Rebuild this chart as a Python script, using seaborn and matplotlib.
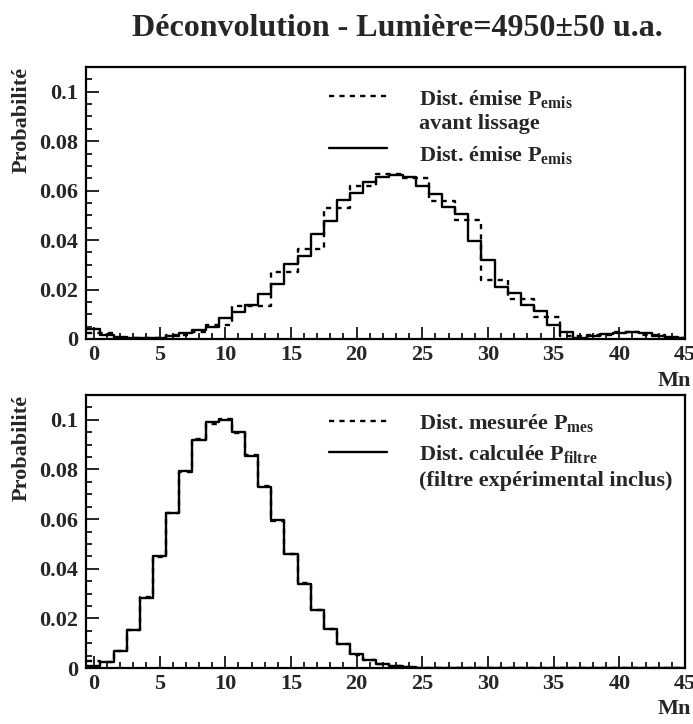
import numpy as np
import pandas as pd
import seaborn as sns
import matplotlib
matplotlib.use("Agg")
import matplotlib.pyplot as plt
from matplotlib.ticker import MultipleLocator, FuncFormatter

# ---------------- data ----------------
mn = list(range(0, 46))

emis_raw = [0.0025, 0.0025, 0.0005, 0.0005, 0.0003, 0.0003, 0.0015, 0.0015,
            0.003, 0.0055, 0.0055, 0.0135, 0.0135, 0.0135, 0.027, 0.027,
            0.0365, 0.0365, 0.053, 0.053, 0.0619, 0.0619, 0.0669, 0.0669,
            0.0651, 0.0651, 0.0557, 0.0557, 0.0481, 0.0481, 0.0237, 0.0237,
            0.0162, 0.0162, 0.009, 0.009, 0.0012, 0.0012, 0.0018, 0.0018,
            0.0028, 0.0028, 0.0016, 0.0016, 0.0005, 0.0005]

emis_smooth = [0.004, 0.0015, 0.0008, 0.0003, 0.0002, 0.0005, 0.0012, 0.0025,
               0.0036, 0.005, 0.0084, 0.011, 0.0137, 0.018, 0.0224, 0.0303,
               0.0335, 0.0425, 0.0477, 0.0562, 0.0592, 0.0636, 0.0657, 0.0665,
               0.0655, 0.0619, 0.0586, 0.0532, 0.0505, 0.0398, 0.0318, 0.021,
               0.0186, 0.0137, 0.0113, 0.0058, 0.0028, 0.0005, 0.0012, 0.002,
               0.0024, 0.0028, 0.0024, 0.0012, 0.0008, 0.0002]

mes = [0.003, 0.0024, 0.007, 0.0153, 0.0286, 0.0448, 0.0625, 0.079,
       0.0922, 0.0985, 0.1002, 0.0948, 0.0858, 0.0735, 0.0593, 0.046,
       0.0342, 0.0232, 0.0157, 0.0097, 0.0054, 0.0032, 0.0016, 0.0008,
       0.0004, 0.0002, 0.0001, 0.0, 0.0, 0.0, 0.0, 0.0,
       0.0, 0.0, 0.0, 0.0, 0.0, 0.0, 0.0, 0.0,
       0.0, 0.0, 0.0, 0.0, 0.0, 0.0]

filtre = [0.001, 0.0026, 0.0069, 0.0155, 0.0284, 0.045, 0.0623, 0.0792,
          0.092, 0.099, 0.0998, 0.095, 0.0856, 0.0731, 0.0596, 0.0459,
          0.034, 0.0234, 0.0156, 0.0096, 0.0055, 0.0031, 0.0015, 0.0007,
          0.0004, 0.0002, 0.0001, 0.0, 0.0, 0.0, 0.0, 0.0,
          0.0, 0.0, 0.0, 0.0, 0.0, 0.0, 0.0, 0.0,
          0.0, 0.0, 0.0, 0.0, 0.0, 0.0]

title = "Déconvolution - Lumière=4950±50 u.a."
ylabel = "Probabilité"
xlabel = "Mn"
top_labels = ["Dist. émise P$_{emis}$", "avant lissage", "Dist. émise P$_{emis}$"]
bot_labels = ["Dist. mesurée P$_{mes}$", "Dist. calculée P$_{filtre}$",
              "(filtre expérimental inclus)"]

# ---------------- style ----------------
sns.set_theme(style="white")
plt.rcParams["font.family"] = ["Liberation Serif", "DejaVu Serif"]
plt.rcParams["font.weight"] = "bold"
plt.rcParams["mathtext.fontset"] = "custom"
plt.rcParams["mathtext.rm"] = "Liberation Serif:bold"
plt.rcParams["mathtext.it"] = "Liberation Serif:bold"
plt.rcParams["mathtext.bf"] = "Liberation Serif:bold"

fig = plt.figure(figsize=(6.93, 7.24), dpi=100)
ax1 = fig.add_axes([0.1241, 0.5318, 0.8644, 0.3757])
ax2 = fig.add_axes([0.1241, 0.0773, 0.8644, 0.3771])

df_top = pd.DataFrame({"Mn": mn, "raw": emis_raw, "smooth": emis_smooth})
df_bot = pd.DataFrame({"Mn": mn, "mes": mes, "filtre": filtre})

lw = 1.7
dash = (0, (2.2, 2.2))
common = dict(x="Mn", binwidth=1, binrange=(-0.5, 45.5), element="step",
              fill=False, color="black", linewidth=lw)
sns.histplot(data=df_top, weights="raw", linestyle=dash, ax=ax1, **common)
sns.histplot(data=df_top, weights="smooth", ax=ax1, **common)
sns.histplot(data=df_bot, weights="mes", linestyle=dash, ax=ax2, **common)
sns.histplot(data=df_bot, weights="filtre", ax=ax2, **common)

def fmt(v, pos):
    if abs(v) < 1e-9:
        return "0"
    return ("%.2f" % v).rstrip("0")

fs = 16
for ax, xl_y in ((ax1, -0.118), (ax2, -0.112)):
    ax.set_xlim(-0.6, 45)
    ax.set_ylim(0, 0.11)
    ax.xaxis.set_major_locator(MultipleLocator(5))
    ax.xaxis.set_minor_locator(MultipleLocator(1))
    ax.yaxis.set_major_locator(MultipleLocator(0.02))
    ax.yaxis.set_minor_locator(MultipleLocator(0.005))
    ax.yaxis.set_major_formatter(FuncFormatter(fmt))
    ax.tick_params(which="both", direction="in", top=False, right=False,
                   left=True, bottom=True, width=1.4, labelsize=fs)
    ax.tick_params(which="major", length=9)
    ax.tick_params(which="minor", length=4.5)
    ax.tick_params(axis="y", pad=5.5)
    ax.tick_params(axis="x", pad=4)
    for sp in ax.spines.values():
        sp.set_linewidth(1.6)
        sp.set_color("black")
    ax.set_ylabel(ylabel, fontsize=fs, fontweight="bold", loc="top")
    ax.yaxis.set_label_coords(-0.09, 1.0)
    ax.set_xlabel(xlabel, fontsize=fs, fontweight="bold", loc="right")
    ax.xaxis.set_label_coords(1.01, xl_y)
    for lab in ax.get_xticklabels() + ax.get_yticklabels():
        lab.set_fontweight("bold")

fig.suptitle(title, fontsize=23, fontweight="bold", x=0.574, y=0.98)

def legend(ax, ys_line, styles, texts, ys_text):
    for y, ls in zip(ys_line, styles):
        ax.plot([0.405, 0.503], [y, y], transform=ax.transAxes, color="black",
                linewidth=lw, linestyle=ls, clip_on=False)
    for y, t in zip(ys_text, texts):
        ax.text(0.556, y, t, transform=ax.transAxes, fontsize=fs,
                fontweight="bold", va="baseline", ha="left")

legend(ax1, [0.893, 0.702], [dash, "-"], top_labels, [0.862, 0.772, 0.655])
legend(ax2, [0.905, 0.791], [dash, "-"], bot_labels, [0.876, 0.762, 0.668])

fig.savefig("out.png", dpi=100)
